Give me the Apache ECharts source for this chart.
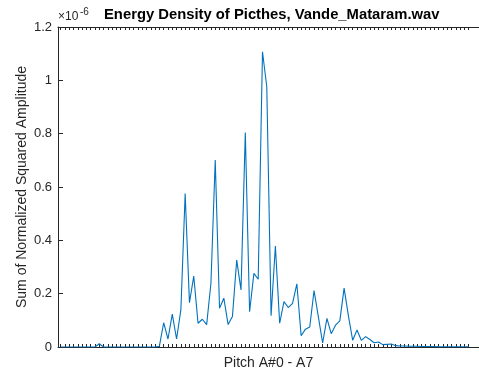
<!DOCTYPE html>
<html><head><meta charset="utf-8">
<script src="https://cdn.jsdelivr.net/npm/echarts@6/dist/echarts.min.js"></script>
<style>html,body{margin:0;padding:0;background:#fff}#c{width:479px;height:370px}</style>
</head><body><div id="c"></div>
<script>
// Pitch index (1..96), values in units of 1e-6
const pitchIndex = Array.from({length: 96}, (_, i) => i + 1);
const energyLow = [0,0,0,0,0,0,0,0,0,0.012,0,0,0,0,0,0,0,0,0,0,0,0,0];
const energyMid = [0.003,0.091,0.030,0.123,0.030,0.139,0.576,0.166,0.266,0.089,
  0.104,0.084,0.239,0.701,0.145,0.183,0.084,0.114,0.326,0.214,
  0.804,0.132,0.276,0.254,1.107,0.976,0.117,0.379,0.089,0.170,
  0.148,0.164,0.237,0.042,0.067,0.075,0.212,0.114,0.015,0.107,
  0.050,0.082,0.098,0.221,0.117,0.025,0.064,0.025,0.039,0.028,
  0.016,0.019,0.009,0.010,0.011,0.005];
const energyHigh = [0.004,0.004,0.003,0.003,0.003,0.002,0.002,0.002,0.002,0.001,0.001,0.001,0.001,0.001,0.001,0.001,0.001];
const energy = energyLow.concat(energyMid, energyHigh);
const yTicks = [0, 0.2, 0.4, 0.6, 0.8, 1, 1.2];
const titleText = 'Energy Density of Picthes, Vande_Mataram.wav';
const xLabel = 'Pitch A#0 - A7';
const yLabel = 'Sum of Normalized Squared Amplitude';

const axisColor = '#262626';
const font = 'Liberation Sans, Arial, Helvetica, sans-serif';
const chart = echarts.init(document.getElementById('c'), null, {renderer: 'canvas'});
const xCommon = {
  type: 'value', min: 0.4, max: 98.4,
  axisLine: {show: true, onZero: false, lineStyle: {color: axisColor, width: 1}},
  axisTick: {show: true, inside: true, length: 3, customValues: pitchIndex, lineStyle: {color: axisColor}},
  axisLabel: {show: false}, splitLine: {show: false}
};
chart.setOption({
  animation: false,
  backgroundColor: '#fff',
  title: {
    text: titleText, left: 99, top: 2,
    textStyle: {fontFamily: font, fontSize: 14.8, fontWeight: 'bold', color: '#000'}
  },
  grid: {left: 58, right: 0, top: 27, bottom: 23, containLabel: false, outerBoundsMode: 'none'},
  xAxis: [
    Object.assign({}, xCommon, {
      position: 'bottom', name: xLabel, nameLocation: 'middle', nameGap: 9, nameMoveOverlap: false,
      nameTextStyle: {fontFamily: font, fontSize: 14, color: axisColor}
    }),
    Object.assign({}, xCommon, {position: 'top'})
  ],
  yAxis: {
    type: 'value', min: 0, max: 1.2, interval: 0.2,
    name: yLabel, nameLocation: 'middle', nameGap: 29, nameRotate: 90, nameMoveOverlap: false,
    nameTextStyle: {fontFamily: font, fontSize: 14, color: axisColor},
    axisLine: {show: true, lineStyle: {color: axisColor, width: 1}},
    axisTick: {show: true, inside: true, length: 5, lineStyle: {color: axisColor}},
    axisLabel: {
      margin: 6, fontFamily: font, fontSize: 13, color: axisColor,
      formatter: v => { const t = yTicks.find(k => Math.abs(k - v) < 1e-9); return t === undefined ? '' : String(t); }
    },
    splitLine: {show: false}
  },
  graphic: [
    {type: 'text', left: 58, top: 11, style: {text: '×10', fontFamily: font, fontSize: 12, fill: axisColor}},
    {type: 'text', left: 80, top: 7, style: {text: '-6', fontFamily: font, fontSize: 10, fill: axisColor}}
  ],
  series: [{
    type: 'line', xAxisIndex: 0,
    data: pitchIndex.map((p, i) => [p, energy[i]]),
    showSymbol: false, symbol: 'none',
    lineStyle: {color: '#0072BD', width: 1.1},
    itemStyle: {color: '#0072BD'}
  }]
});
</script></body></html>
